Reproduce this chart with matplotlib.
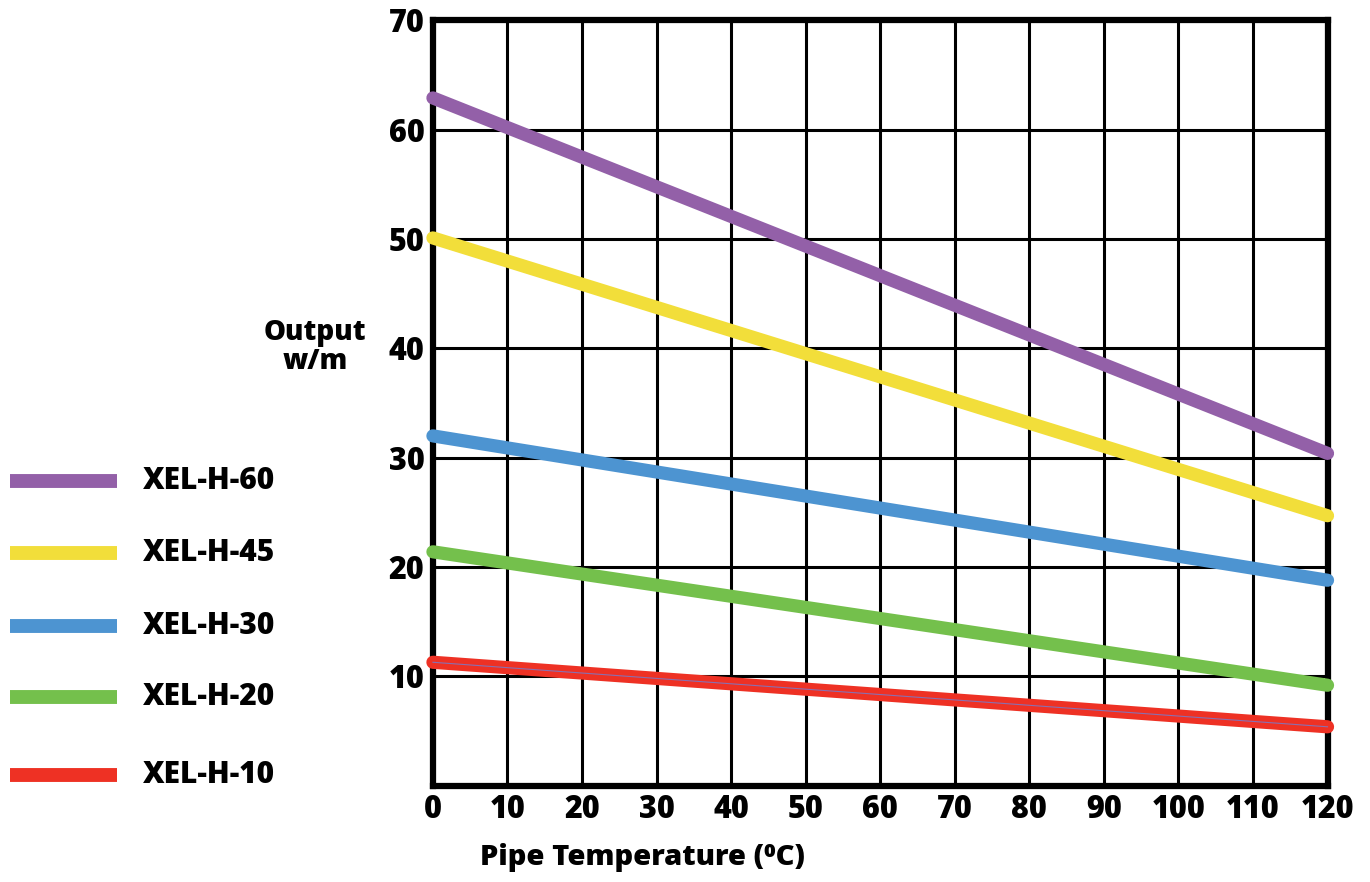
import matplotlib
matplotlib.use("Agg")
import matplotlib.pyplot as plt

plt.rcParams["font.family"] = ["Open Sans", "DejaVu Sans"]
plt.rcParams["font.weight"] = 800

# pipe temperature (C) and output (W/m)
temps = [0, 120]
series_names = ["XEL-H-60", "XEL-H-45", "XEL-H-30", "XEL-H-20", "XEL-H-10"]
xel_h_60 = [62.9, 30.4]
xel_h_45 = [50.1, 24.7]
xel_h_30 = [32.0, 18.8]
xel_h_20 = [21.4, 9.2]
xel_h_10 = [11.3, 5.4]
colors = ["#9360a8", "#f2de3a", "#4d94d1", "#74c04c", "#ee3124"]

x_ticks = list(range(0, 121, 10))
y_ticks = list(range(10, 71, 10))

fig = plt.figure(figsize=(13.7, 8.82), dpi=100)
ax = fig.add_axes([0.316, 0.109, 0.653, 0.868])

ax.set_xlim(0, 120)
ax.set_ylim(0, 70)
ax.set_xticks(x_ticks)
ax.set_yticks(y_ticks)
ax.grid(True, color="black", linewidth=2.2)
ax.set_axisbelow(True)
for sp in ax.spines.values():
    sp.set_linewidth(4.5)
ax.tick_params(length=0, labelsize=22, pad=6)
for lab in ax.get_xticklabels() + ax.get_yticklabels():
    lab.set_fontweight(800)

all_series = [xel_h_60, xel_h_45, xel_h_30, xel_h_20, xel_h_10]
for name, vals, col in zip(series_names, all_series, colors):
    ax.plot(temps, vals, color=col, linewidth=9.5, solid_capstyle="round",
            clip_on=False, zorder=3)
# thin centre stroke on the red line
ax.plot(temps, xel_h_10, color="#8a6fb0", linewidth=0.8, clip_on=False, zorder=4)

# legend drawn by hand at the left
leg_y = [481, 553, 626, 697, 775]
for name, col, yp in zip(series_names, colors, leg_y):
    yf = 1 - yp / 882
    fig.add_artist(plt.Line2D([10 / 1370, 117 / 1370], [yf, yf], color=col,
                              linewidth=10, solid_capstyle="butt"))
    fig.text(143 / 1370, yf, name, fontsize=21.5, fontweight=800,
             va="center", ha="left")

fig.text(315 / 1370, 1 - 347 / 882, "Output\nw/m", fontsize=20, fontweight=800,
         ha="center", va="center", linespacing=1.0)
fig.text(480 / 1370, 1 - 858 / 882, "Pipe Temperature (\u2070C)", fontsize=21,
         fontweight=800, ha="left", va="center")

fig.savefig("out.png", dpi=100)
